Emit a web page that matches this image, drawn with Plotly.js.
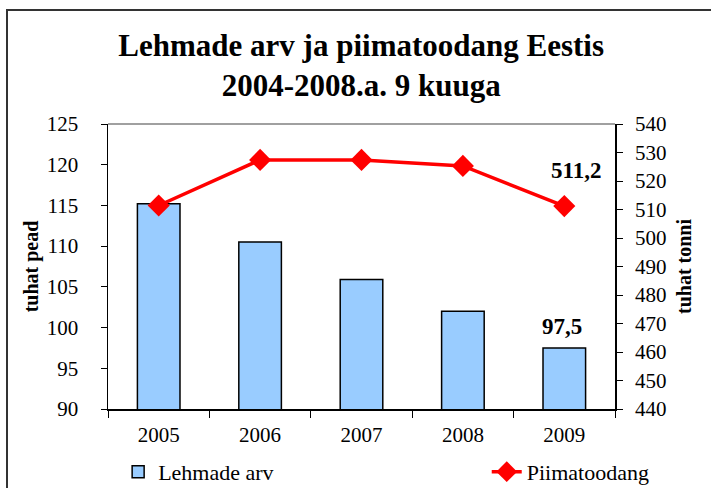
<!DOCTYPE html>
<html>
<head>
<meta charset="utf-8">
<script src="https://cdn.plot.ly/plotly-3.0.1.min.js"></script>
<style>
html,body{margin:0;padding:0;background:#fff;}
#wrap{position:relative;width:711px;height:488px;overflow:hidden;}
#chart{width:711px;height:488px;}
#frame{position:absolute;left:6px;top:9px;width:720px;height:500px;border-left:2px solid #333;border-top:2px solid #333;pointer-events:none;}
</style>
</head>
<body>
<div id="wrap"><div id="chart"></div><div id="frame"></div></div>
<script>
const years = ['2005', '2006', '2007', '2008', '2009'];
const cows = [115.2, 110.5, 105.9, 102.0, 97.5];
const milk = [511.4, 527.4, 527.4, 525.3, 511.2];
const leftTicks = [90, 95, 100, 105, 110, 115, 120, 125];
const rightTicks = [440, 450, 460, 470, 480, 490, 500, 510, 520, 530, 540];
const cowsName = 'Lehmade arv';
const milkName = 'Piimatoodang';
const labelCows = '97,5';
const labelMilk = '511,2';

const serif = '"Liberation Serif", serif';

const traces = [
  {
    type: 'bar', x: years, y: cows, name: cowsName,
    marker: {color: '#99CCFF', line: {color: '#000', width: 1.5}},
    yaxis: 'y', legend: 'legend'
  },
  {
    type: 'scatter', mode: 'lines+markers', x: years, y: milk, name: milkName,
    line: {color: '#FF0000', width: 3.5},
    marker: {symbol: 'diamond', size: 17, color: '#FF0000'},
    yaxis: 'y2', legend: 'legend2'
  }
];

const last = years.length - 1;
const layout = {
  width: 711, height: 488,
  margin: {l: 108, r: 96, t: 124, b: 79, autoexpand: false},
  paper_bgcolor: '#fff', plot_bgcolor: '#fff',
  font: {family: serif, color: '#000', size: 21},
  title: {
    text: '<b>Lehmade arv ja piimatoodang Eestis<br>2004-2008.a. 9 kuuga</b>',
    font: {family: serif, size: 31, color: '#000'},
    x: 0.508, xanchor: 'center', xref: 'container',
    y: 0.885, yanchor: 'top', yref: 'container'
  },
  bargap: 0.58,
  showlegend: true,
  legend: {
    orientation: 'h', x: 0.02, xanchor: 'left', xref: 'paper',
    y: -0.147, yanchor: 'top', font: {family: serif, size: 22}
  },
  legend2: {
    orientation: 'h', x: 0.747, xanchor: 'left', xref: 'paper',
    y: -0.147, yanchor: 'top', font: {family: serif, size: 22}
  },
  xaxis: {
    type: 'category', showline: true, linecolor: '#000', linewidth: 1.5,
    ticks: 'outside', tickson: 'boundaries', ticklen: 7, tickcolor: '#000',
    tickfont: {family: serif, size: 21}, showgrid: false, zeroline: false,
    ticklabelstandoff: 6
  },
  yaxis: {
    range: [90, 125], tickvals: leftTicks, showline: true, linecolor: '#000', linewidth: 1.5,
    ticks: 'outside', ticklen: 6, tickcolor: '#000', showgrid: false, zeroline: false,
    tickfont: {family: serif, size: 21}, ticklabelstandoff: 18,
    title: {text: '<b>tuhat pead</b>', font: {family: serif, size: 20}, standoff: 3}
  },
  yaxis2: {
    range: [440, 540], tickvals: rightTicks,
    ticktext: rightTicks.map(v => '\u2009\u2009' + v),
    overlaying: 'y', side: 'right',
    showline: true, linecolor: '#000', linewidth: 1.5,
    ticks: 'outside', ticklen: 6, tickcolor: '#000', showgrid: false, zeroline: false,
    tickfont: {family: serif, size: 21},
    title: {text: '<b>tuhat tonni</b>', font: {family: serif, size: 20}, standoff: 11}
  },
  shapes: [
    {type: 'line', xref: 'paper', yref: 'paper', x0: 0, x1: 1, y0: 1, y1: 1,
     line: {color: '#808080', width: 1.5}}
  ],
  annotations: [
    {x: last, y: cows[last], xref: 'x', yref: 'y', text: '<b>' + labelCows + '</b>',
     showarrow: false, yanchor: 'bottom', yshift: 7, xshift: -2,
     font: {family: serif, size: 23, color: '#000'}},
    {x: last, y: milk[last], xref: 'x', yref: 'y2', text: '<b>' + labelMilk + '</b>',
     showarrow: false, yanchor: 'bottom', yshift: 21, xshift: 12,
     font: {family: serif, size: 23, color: '#000'}}
  ]
};

Plotly.newPlot('chart', traces, layout, {displayModeBar: false, staticPlot: true});
</script>
</body>
</html>
